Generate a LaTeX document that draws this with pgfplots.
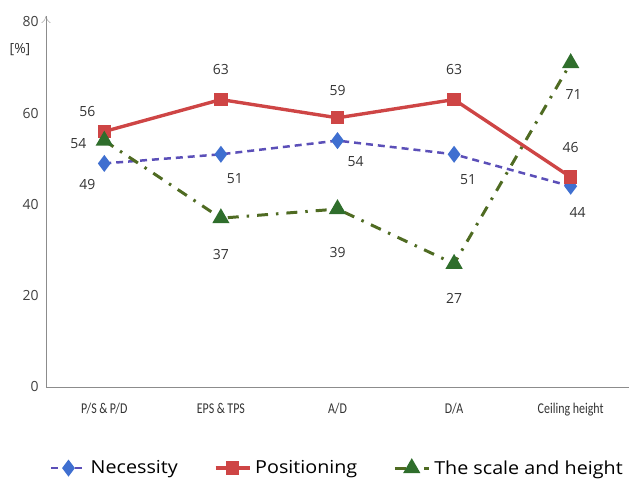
\documentclass[border=0pt]{standalone}
\usepackage{pgfplots}
\pgfplotsset{compat=1.18}
\usepackage{fontspec}
\setmainfont{Carlito}
\newfontfamily\lblfont{Open Sans}
\newfontfamily\legfont[FakeStretch=1.1]{Open Sans}
\usetikzlibrary{arrows.meta}

\definecolor{necline}{HTML}{5B4FB8}
\definecolor{necmark}{HTML}{3F6FD0}
\definecolor{posred}{HTML}{CE4545}
\definecolor{scline}{HTML}{4F6B22}
\definecolor{scmark}{HTML}{2F6E2C}
\definecolor{axgray}{HTML}{8C8C8C}

\begin{document}
\begin{tikzpicture}[x=1bp,y=1bp]
\begin{axis}[
  name=ax,
  scale only axis,
  width=583bp, height=365bp,
  xmin=-0.5, xmax=4.5,
  ymin=0, ymax=80,
  axis x line=bottom,
  axis y line=left,
  x axis line style={-, draw=axgray},
  y axis line style={-{To[length=7pt,width=9pt]}, draw=axgray, shorten >=-6bp},
  xtick={0,1,2,3,4},
  xticklabels={P/S\,\&\,P/D, EPS\,\&\,TPS, A/D, D/A, Ceiling height},
  ytick={0,20,40,60,80},
  major tick length=0pt,
  tick style={draw=none},
  x tick label style={font=\fontsize{15}{17}\selectfont\addfontfeatures{FakeStretch=0.8}, text=black!80, yshift=-13bp},
  y tick label style={font=\fontsize{14}{16}\lblfont, text=black!75, xshift=-4bp},
  /pgf/number format/assume math mode=true,
  clip=false,
  legend style={at={(0.5,-0.19)}, anchor=north, draw=none, fill=none,
    legend columns=3, font=\fontsize{18}{21}\legfont,
    /tikz/every even column/.append style={column sep=34bp},
    /tikz/every odd column/.append style={column sep=2bp}},
  legend cell align=left,
  legend image code/.code={%
    \draw[mark repeat=2, mark phase=2] plot coordinates {(0bp,0bp) (17bp,0bp) (34bp,0bp)};},
]
% Necessity
\addplot[necline, dash pattern=on 7pt off 5pt, line width=2.5pt,
  mark=diamond*, mark size=6.5pt, mark options={solid, fill=necmark, draw=necmark}]
  coordinates {(0,49) (1,51) (2,54) (3,51) (4,44)};
\addlegendentry{Necessity}
% Positioning
\addplot[posred, solid, line width=3.4pt,
  mark=square*, mark size=5pt, mark options={fill=posred, draw=posred}]
  coordinates {(0,56) (1,63) (2,59) (3,63) (4,46)};
\addlegendentry{Positioning}
% The scale and height
\addplot[scline, dash pattern=on 11pt off 8pt on 2.5pt off 8pt, line width=3pt,
  mark=triangle*, mark size=7pt, mark options={solid, fill=scmark, draw=scmark}]
  coordinates {(0,54) (1,37) (2,39) (3,27) (4,71)};
\addlegendentry{The scale and height}

% value labels
\begin{scope}[every node/.style={font=\fontsize{14}{16}\lblfont, text=black!80}]
\node[xshift=-17bp, yshift=-21bp] at (axis cs:0,49) {49};
\node[xshift=14bp, yshift=-24bp] at (axis cs:1,51) {51};
\node[xshift=18bp, yshift=-21bp] at (axis cs:2,54) {54};
\node[xshift=14bp, yshift=-25bp] at (axis cs:3,51) {51};
\node[xshift=7bp, yshift=-26bp] at (axis cs:4,44) {44};

\node[xshift=-17bp, yshift=20bp] at (axis cs:0,56) {56};
\node[yshift=30bp] at (axis cs:1,63) {63};
\node[yshift=27bp] at (axis cs:2,59) {59};
\node[yshift=30bp] at (axis cs:3,63) {63};
\node[yshift=30bp] at (axis cs:4,46) {46};

\node[xshift=-26bp, yshift=-3bp] at (axis cs:0,54) {54};
\node[yshift=-36bp] at (axis cs:1,37) {37};
\node[yshift=-43bp] at (axis cs:2,39) {39};
\node[yshift=-35bp] at (axis cs:3,27) {27};
\node[xshift=3bp, yshift=-31bp] at (axis cs:4,71) {71};

\node[xshift=-26bp, yshift=-28bp] at (axis cs:-0.5,80) {[\%]};
\end{scope}
\end{axis}
\pgfresetboundingbox
\path (ax.south west) ++(-46bp,-105bp) rectangle ([yshift=22bp]ax.north east);
\end{tikzpicture}
\end{document}
